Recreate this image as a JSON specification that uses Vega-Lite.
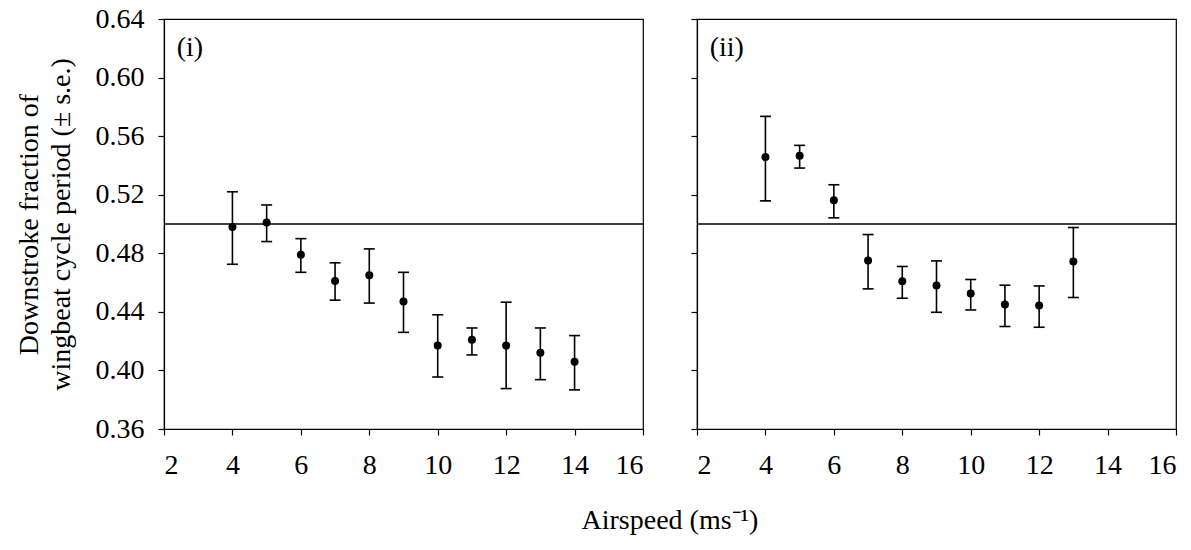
{
  "$schema": "https://vega.github.io/schema/vega-lite/v6.json",
  "background": "white",
  "padding": {"left": 14, "top": 4, "right": 5, "bottom": 5},
  "datasets": {
    "pts": [
      {"panel": "i", "speed": 4, "mean": 0.498, "lo": 0.4725, "hi": 0.522},
      {"panel": "i", "speed": 5, "mean": 0.501, "lo": 0.488, "hi": 0.513},
      {"panel": "i", "speed": 6, "mean": 0.479, "lo": 0.467, "hi": 0.490},
      {"panel": "i", "speed": 7, "mean": 0.461, "lo": 0.448, "hi": 0.4735},
      {"panel": "i", "speed": 8, "mean": 0.465, "lo": 0.446, "hi": 0.483},
      {"panel": "i", "speed": 9, "mean": 0.447, "lo": 0.426, "hi": 0.467},
      {"panel": "i", "speed": 10, "mean": 0.417, "lo": 0.3955, "hi": 0.438},
      {"panel": "i", "speed": 11, "mean": 0.421, "lo": 0.4106, "hi": 0.429},
      {"panel": "i", "speed": 12, "mean": 0.417, "lo": 0.3876, "hi": 0.4466},
      {"panel": "i", "speed": 13, "mean": 0.412, "lo": 0.3937, "hi": 0.429},
      {"panel": "i", "speed": 14, "mean": 0.406, "lo": 0.3867, "hi": 0.4238},
      {"panel": "ii", "speed": 4, "mean": 0.5457, "lo": 0.5158, "hi": 0.5735},
      {"panel": "ii", "speed": 5, "mean": 0.5466, "lo": 0.5382, "hi": 0.5537},
      {"panel": "ii", "speed": 6, "mean": 0.5163, "lo": 0.5042, "hi": 0.5268},
      {"panel": "ii", "speed": 7, "mean": 0.4751, "lo": 0.4557, "hi": 0.4928},
      {"panel": "ii", "speed": 8, "mean": 0.4609, "lo": 0.4493, "hi": 0.471},
      {"panel": "ii", "speed": 9, "mean": 0.458, "lo": 0.4397, "hi": 0.4748},
      {"panel": "ii", "speed": 10, "mean": 0.4525, "lo": 0.4413, "hi": 0.4621},
      {"panel": "ii", "speed": 11, "mean": 0.445, "lo": 0.430, "hi": 0.4582},
      {"panel": "ii", "speed": 12, "mean": 0.4443, "lo": 0.4295, "hi": 0.4577},
      {"panel": "ii", "speed": 13, "mean": 0.4744, "lo": 0.4498, "hi": 0.4976}
    ]
  },
  "title": {
    "text": "Airspeed (ms⁻¹)",
    "orient": "bottom",
    "anchor": "middle",
    "font": "Liberation Serif",
    "fontSize": 28,
    "fontWeight": "normal",
    "color": "black",
    "offset": 27,
    "dx": 74
  },
  "spacing": 44,
  "hconcat": [
    {
      "width": 479,
      "height": 410,
      "data": {"name": "pts"},
      "transform": [{"filter": "datum.panel == 'i'"}],
      "layer": [
        {
          "data": {"values": [{}]},
          "mark": {"type": "rule", "color": "black", "strokeWidth": 1.5},
          "encoding": {"y": {"datum": 0.5, "type": "quantitative", "scale": {"domain": [0.36, 0.64], "nice": false, "zero": false}}}
        },
        {
          "mark": {"type": "rule", "color": "black", "strokeWidth": 1.6},
          "encoding": {
            "x": {"field": "speed", "type": "quantitative", "scale": {"domain": [2, 16], "nice": false, "zero": false},
                  "axis": {"values": [2, 4, 6, 8, 10, 12, 14, 16], "format": "d", "title": null}},
            "y": {"field": "lo", "type": "quantitative", "scale": {"domain": [0.36, 0.64], "nice": false, "zero": false},
                  "axis": {"values": [0.36, 0.40, 0.44, 0.48, 0.52, 0.56, 0.60, 0.64], "format": ".2f",
                           "title": ["Downstroke fraction of", "wingbeat cycle period (± s.e.)"], "titleLineHeight": 32, "titlePadding": 20}},
            "y2": {"field": "hi"}
          }
        },
        {
          "mark": {"type": "tick", "orient": "horizontal", "size": 11, "thickness": 1.6, "color": "black", "opacity": 1},
          "encoding": {"x": {"field": "speed", "type": "quantitative"}, "y": {"field": "lo", "type": "quantitative"}}
        },
        {
          "mark": {"type": "tick", "orient": "horizontal", "size": 11, "thickness": 1.6, "color": "black", "opacity": 1},
          "encoding": {"x": {"field": "speed", "type": "quantitative"}, "y": {"field": "hi", "type": "quantitative"}}
        },
        {
          "mark": {"type": "point", "filled": true, "size": 64, "color": "black", "opacity": 1},
          "encoding": {"x": {"field": "speed", "type": "quantitative"}, "y": {"field": "mean", "type": "quantitative"}}
        },
        {
          "data": {"values": [{}]},
          "mark": {"type": "text", "text": "(i)", "align": "left", "baseline": "alphabetic", "font": "Liberation Serif", "fontSize": 28, "color": "black"},
          "encoding": {"x": {"datum": 2.37, "type": "quantitative"}, "y": {"datum": 0.6144, "type": "quantitative"}}
        }
      ]
    },
    {
      "width": 479,
      "height": 410,
      "data": {"name": "pts"},
      "transform": [{"filter": "datum.panel == 'ii'"}],
      "layer": [
        {
          "data": {"values": [{}]},
          "mark": {"type": "rule", "color": "black", "strokeWidth": 1.5},
          "encoding": {"y": {"datum": 0.5, "type": "quantitative", "scale": {"domain": [0.36, 0.64], "nice": false, "zero": false}}}
        },
        {
          "mark": {"type": "rule", "color": "black", "strokeWidth": 1.6},
          "encoding": {
            "x": {"field": "speed", "type": "quantitative", "scale": {"domain": [2, 16], "nice": false, "zero": false},
                  "axis": {"values": [2, 4, 6, 8, 10, 12, 14, 16], "format": "d", "title": null}},
            "y": {"field": "lo", "type": "quantitative", "scale": {"domain": [0.36, 0.64], "nice": false, "zero": false},
                  "axis": {"values": [0.36, 0.40, 0.44, 0.48, 0.52, 0.56, 0.60, 0.64], "labels": false, "title": null}},
            "y2": {"field": "hi"}
          }
        },
        {
          "mark": {"type": "tick", "orient": "horizontal", "size": 11, "thickness": 1.6, "color": "black", "opacity": 1},
          "encoding": {"x": {"field": "speed", "type": "quantitative"}, "y": {"field": "lo", "type": "quantitative"}}
        },
        {
          "mark": {"type": "tick", "orient": "horizontal", "size": 11, "thickness": 1.6, "color": "black", "opacity": 1},
          "encoding": {"x": {"field": "speed", "type": "quantitative"}, "y": {"field": "hi", "type": "quantitative"}}
        },
        {
          "mark": {"type": "point", "filled": true, "size": 64, "color": "black", "opacity": 1},
          "encoding": {"x": {"field": "speed", "type": "quantitative"}, "y": {"field": "mean", "type": "quantitative"}}
        },
        {
          "data": {"values": [{}]},
          "mark": {"type": "text", "text": "(ii)", "align": "left", "baseline": "alphabetic", "font": "Liberation Serif", "fontSize": 28, "color": "black"},
          "encoding": {"x": {"datum": 2.37, "type": "quantitative"}, "y": {"datum": 0.6144, "type": "quantitative"}}
        }
      ]
    }
  ],
  "config": {
    "view": {"stroke": "black", "strokeWidth": 1.2},
    "axis": {
      "grid": false,
      "domainColor": "black",
      "domainWidth": 1.2,
      "tickColor": "black",
      "tickWidth": 1.2,
      "tickSize": 6,
      "labelColor": "black",
      "labelFont": "Liberation Serif",
      "labelFontSize": 28,
      "titleFont": "Liberation Serif",
      "titleFontSize": 28,
      "titleFontWeight": "normal",
      "titleColor": "black",
      "labelPadding": 14
    },
    "axisX": {"labelPadding": 16}
  }
}
